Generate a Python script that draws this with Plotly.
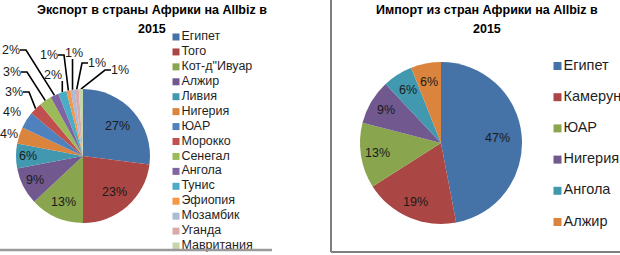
import numpy as np
import plotly.graph_objects as go

# ---------------- data ----------------
EXPORT_TITLE = ["Экспорт в страны Африки на Allbiz в", "2015"]
IMPORT_TITLE = ["Импорт из стран Африки на Allbiz в", "2015"]

EXP_LABELS = ["Египет", "Того", "Кот-д\"Ивуар", "Алжир", "Ливия", "Нигерия", "ЮАР",
              "Морокко", "Сенегал", "Ангола", "Тунис", "Эфиопия", "Мозамбик",
              "Уганда", "Мавритания"]
EXP_VALUES = [27, 23, 13, 9, 6, 4, 4, 3, 3, 2, 2, 1, 1, 1, 1]

IMP_LABELS = ["Египет", "Камерун", "ЮАР", "Нигерия", "Ангола", "Алжир"]
IMP_VALUES = [47, 19, 13, 9, 6, 6]

# ---------------- styles / layout ----------------
W, H = 620, 255
FONT = "Liberation Sans"

EXP_COLORS = ["#4572A7", "#AA4643", "#89A54E", "#71588F", "#4198AF", "#DB843D",
              "#4F81BD", "#C0504D", "#9BBB59", "#8064A2", "#4BACC6", "#F79646",
              "#AABAD7", "#D9AAA9", "#C6D6AC"]
IMP_COLORS = ["#4572A7", "#AA4643", "#89A54E", "#71588F", "#4198AF", "#DB843D"]

L_CX, L_CY, L_R = 83, 156, 67
R_CX, R_CY, R_R = 441, 143, 81

# outside-label text positions (pixels) for the small export slices (index 5..14)
L_OUT_POS = {5: (9, 134), 6: (12, 112), 7: (14, 92), 8: (12, 72), 9: (11, 50),
             10: (53, 75), 11: (49, 55), 12: (74, 53), 13: (97, 63), 14: (120, 70)}
LEADER = [7, 8, 9, 10, 11, 12, 13, 14]
INSIDE_MIN = 6
L_K = [0.68, 0.72, 0.75, 0.8, 0.82]
R_K = [0.70, 0.79, 0.79, 0.79, 0.77, 0.77]


def domain(cx, cy, r):
    return dict(x=[(cx - r) / W, (cx + r) / W], y=[1 - (cy + r) / H, 1 - (cy - r) / H])


def mid_points(values, cx, cy, r, k):
    v = np.asarray(values, dtype=float)
    mid = (np.cumsum(v) - v / 2) / v.sum() * 2 * np.pi
    k = np.asarray(k, dtype=float)
    return cx + k * r * np.sin(mid), cy - k * r * np.cos(mid)


fig = go.Figure()

fig.add_trace(go.Pie(labels=EXP_LABELS, values=EXP_VALUES, sort=False,
                     direction="clockwise", rotation=0, textinfo="none",
                     marker=dict(colors=EXP_COLORS, line=dict(width=0)),
                     showlegend=False, domain=domain(L_CX, L_CY, L_R)))
fig.add_trace(go.Pie(labels=IMP_LABELS, values=IMP_VALUES, sort=False,
                     direction="clockwise", rotation=0, textinfo="none",
                     marker=dict(colors=IMP_COLORS, line=dict(width=0)),
                     showlegend=False, domain=domain(R_CX, R_CY, R_R)))

annotations = []
lbl_font = dict(family=FONT, size=12.5, color="#1a1a1a")

# inside labels (annotations sit above the pie layer)
idx = [i for i, v in enumerate(EXP_VALUES) if v >= INSIDE_MIN]
lx, ly = mid_points([EXP_VALUES[i] for i in range(len(EXP_VALUES))], L_CX, L_CY, L_R,
                    [L_K[i] if i < len(L_K) else 1.0 for i in range(len(EXP_VALUES))])
for i in idx:
    annotations.append(dict(x=lx[i], y=ly[i], xref="x", yref="y", text=f"{EXP_VALUES[i]}%",
                            showarrow=False, font=lbl_font))
rx, ry = mid_points(IMP_VALUES, R_CX, R_CY, R_R, R_K)
for i, v in enumerate(IMP_VALUES):
    annotations.append(dict(x=rx[i], y=ry[i], xref="x", yref="y", text=f"{v}%",
                            showarrow=False, font=lbl_font))

# outside labels with leader lines
tx, ty = mid_points(EXP_VALUES, L_CX, L_CY, L_R, 1.0)
for i in sorted(L_OUT_POS):
    px, py = L_OUT_POS[i]
    annotations.append(dict(x=px, y=py, xref="x", yref="y", text=f"{EXP_VALUES[i]}%",
                            showarrow=False, font=lbl_font))
lxs, lys = [], []
for i in LEADER:
    px, py = L_OUT_POS[i]
    if abs(tx[i] - px) < 10:
        lxs += [tx[i], tx[i], None]
        lys += [py + 6, ty[i], None]
    else:
        s = 1 if tx[i] > px else -1
        lxs += [px + s * 9, px + s * 15, tx[i], None]
        lys += [py, py, ty[i], None]
fig.add_trace(go.Scatter(x=lxs, y=lys, mode="lines", line=dict(color="black", width=1.6),
                         hoverinfo="skip", showlegend=False))

# legends
n = len(EXP_LABELS)
fig.add_trace(go.Scatter(x=[176] * n, y=[37 + i * 14.93 for i in range(n)],
                         mode="markers+text", text=EXP_LABELS, textposition="middle right",
                         marker=dict(symbol="square", size=7, color=EXP_COLORS),
                         textfont=dict(family=FONT, size=12.5, color="#1f1f1f"),
                         hoverinfo="skip", showlegend=False, cliponaxis=False))
m = len(IMP_LABELS)
fig.add_trace(go.Scatter(x=[557.5] * m, y=[66 + i * 31.2 for i in range(m)],
                         mode="markers+text", text=IMP_LABELS, textposition="middle right",
                         marker=dict(symbol="square", size=8, color=IMP_COLORS),
                         textfont=dict(family=FONT, size=14.5, color="#1f1f1f"),
                         hoverinfo="skip", showlegend=False, cliponaxis=False))

for j, line in enumerate(EXPORT_TITLE):
    annotations.append(dict(x=152, y=10 + j * 18.5, xref="x", yref="y", text=f"<b>{line}</b>",
                            showarrow=False, font=dict(family=FONT, size=12.5, color="black")))
for j, line in enumerate(IMPORT_TITLE):
    annotations.append(dict(x=487, y=10 + j * 18.5, xref="x", yref="y", text=f"<b>{line}</b>",
                            showarrow=False, font=dict(family=FONT, size=12.5, color="black")))

shapes = [
    dict(type="line", xref="x", yref="y", x0=331, x1=331, y0=0, y1=252,
         line=dict(color="#7f7f7f", width=2)),
    dict(type="line", xref="x", yref="y", x0=331, x1=620, y0=252, y1=252,
         line=dict(color="#7f7f7f", width=2)),
    dict(type="line", xref="x", yref="y", x0=0, x1=272, y0=250, y1=250,
         line=dict(color="#9a9a9a", width=2.5)),
]

fig.update_layout(
    width=W, height=H, margin=dict(l=0, r=0, t=0, b=0),
    paper_bgcolor="white", plot_bgcolor="rgba(0,0,0,0)",
    xaxis=dict(range=[0, W], visible=False, domain=[0, 1], fixedrange=True),
    yaxis=dict(range=[H, 0], visible=False, domain=[0, 1], fixedrange=True),
    annotations=annotations, shapes=shapes, showlegend=False,
)

fig.write_html("out.html")
